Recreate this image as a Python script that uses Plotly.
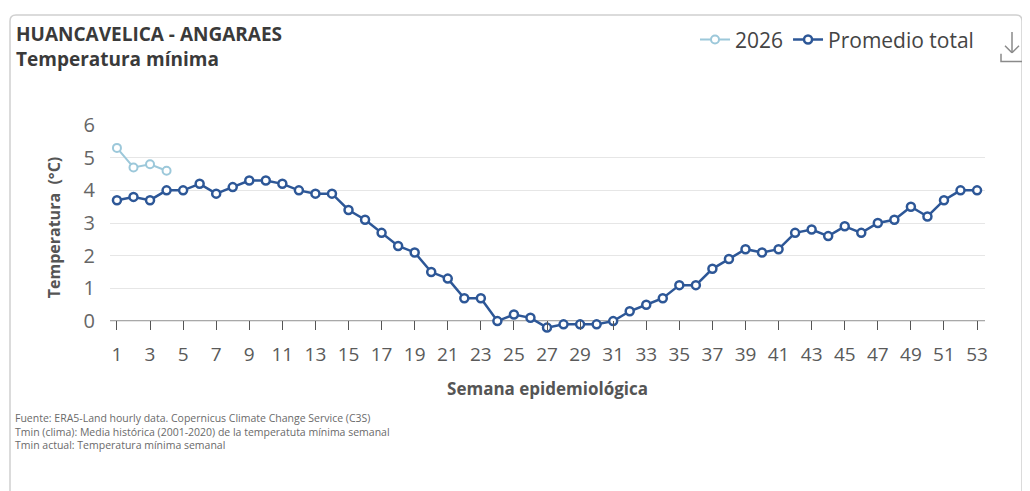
import plotly.graph_objects as go

weeks = list(range(1, 54))
promedio = [3.7, 3.8, 3.7, 4.0, 4.0, 4.2, 3.9, 4.1, 4.3, 4.3,
            4.2, 4.0, 3.9, 3.9, 3.4, 3.1, 2.7, 2.3, 2.1, 1.5,
            1.3, 0.7, 0.7, 0.0, 0.2, 0.1, -0.2, -0.1, -0.1, -0.1,
            0.0, 0.3, 0.5, 0.7, 1.1, 1.1, 1.6, 1.9, 2.2, 2.1,
            2.2, 2.7, 2.8, 2.6, 2.9, 2.7, 3.0, 3.1, 3.5, 3.2,
            3.7, 4.0, 4.0]
weeks_2026 = [1, 2, 3, 4]
temp_2026 = [5.3, 4.7, 4.8, 4.6]
x_ticks = list(range(1, 54, 2))
y_ticks = [0, 1, 2, 3, 4, 5, 6]
footnotes = [
    "Fuente: ERA5-Land hourly data. Copernicus Climate Change Service (C3S)",
    "Tmin (clima): Media histórica (2001-2020) de la temperatuta mínima semanal",
    "Tmin actual: Temperatura mínima semanal",
]

OFF = 8  # page body margin
W, H = 1030 - OFF, 491 - OFF
# page-pixel coordinates of plot area
L, R, T, B = 110, 985, 123, 330
Y0 = 321  # page y of value 0
YMIN = -(B - Y0) / ((Y0 - T) / 6.0)
FONT = "Open Sans"

def px(x):
    return (x - L) / (R - L)

def py(y):
    return (B - y) / (B - T)

fig = go.Figure()
fig.add_trace(go.Scatter(
    x=weeks_2026, y=temp_2026, name="2026", mode="lines+markers",
    line=dict(color="#9cc8da", width=2),
    marker=dict(symbol="circle", size=8, color="white",
                line=dict(color="#9cc8da", width=2)),
    cliponaxis=False))
fig.add_trace(go.Scatter(
    x=weeks, y=promedio, name="Promedio total", mode="lines+markers",
    line=dict(color="#2d5797", width=2.5),
    marker=dict(symbol="circle", size=8, color="white",
                line=dict(color="#2d5797", width=2.5)),
    cliponaxis=False))

icon = dict(color="#8a8a8a", width=1.5)
shapes = [
    dict(type="path", xref="paper", yref="paper",
         path=f"M {px(10)},{py(600)} L {px(10)},{py(18)} Q {px(10)},{py(12)} {px(16)},{py(12)} "
              f"L {px(1016)},{py(12)} Q {px(1022)},{py(12)} {px(1022)},{py(18)} L {px(1022)},{py(600)}",
         line=dict(color="#d0d0d0", width=1.5)),
    dict(type="line", xref="paper", yref="paper", x0=px(1012), x1=px(1012), y0=py(29), y1=py(50), line=icon),
    dict(type="line", xref="paper", yref="paper", x0=px(1005), x1=px(1012), y0=py(43), y1=py(50), line=icon),
    dict(type="line", xref="paper", yref="paper", x0=px(1019), x1=px(1012), y0=py(43), y1=py(50), line=icon),
    dict(type="path", xref="paper", yref="paper",
         path=f"M {px(1001)},{py(51)} L {px(1001)},{py(59)} L {px(1024)},{py(59)} L {px(1024)},{py(51)}",
         line=icon),
    dict(type="line", xref="paper", yref="y", x0=0, x1=1, y0=0, y1=0,
         line=dict(color="#555", width=1.2), layer="below"),
]

annotations = [
    dict(text="<b>HUANCAVELICA - ANGARAES</b>", xref="paper", yref="paper",
         x=px(14), y=py(31), xanchor="left", yanchor="middle", showarrow=False,
         font=dict(family=FONT, size=19, color="#3a3a3a")),
    dict(text="<b>Temperatura mínima</b>", xref="paper", yref="paper",
         x=px(14), y=py(56), xanchor="left", yanchor="middle", showarrow=False,
         font=dict(family=FONT, size=19, color="#3a3a3a")),
    dict(text="<br>".join(footnotes), xref="paper", yref="paper", x=px(13), y=py(432),
         xanchor="left", yanchor="middle", align="left", showarrow=False,
         font=dict(family=FONT, size=10.5, color="#6a6a6a")),
]

fig.update_layout(
    width=W, height=H,
    margin=dict(l=L - OFF, r=W - (R - OFF), t=T - OFF, b=H - (B - OFF), pad=0),
    paper_bgcolor="white", plot_bgcolor="white",
    font=dict(family=FONT, color="#555"),
    showlegend=True,
    legend=dict(orientation="h", xanchor="right", yanchor="middle",
                x=px(979), y=py(37), font=dict(family=FONT, size=21, color="#444"),
                itemsizing="trace", bgcolor="rgba(0,0,0,0)"),
    shapes=shapes, annotations=annotations,
    xaxis=dict(range=[0.58, 53.48], tickvals=x_ticks, ticktext=[str(v) for v in x_ticks],
               ticks="inside", ticklen=B - Y0, tickcolor="#555", tickwidth=1,
               showline=False, showgrid=False, zeroline=False,
               ticklabelstandoff=11,
               tickfont=dict(family=FONT, size=19, color="#5a5a5a"),
               title=dict(text="<b>Semana epidemiológica</b>", standoff=17,
                          font=dict(family=FONT, size=17, color="#555"))),
    yaxis=dict(range=[YMIN, 6], tickvals=y_ticks, showgrid=True, gridcolor="#e6e6e6", gridwidth=1,
               zeroline=False, showline=False, ticks="", ticklabelstandoff=14,
               tickfont=dict(family=FONT, size=20, color="#666"),
               title=dict(text="<b>Temperatura  (°C)</b>", standoff=18,
                          font=dict(family=FONT, size=16, color="#555"))),
)

fig.write_html("out.html")
